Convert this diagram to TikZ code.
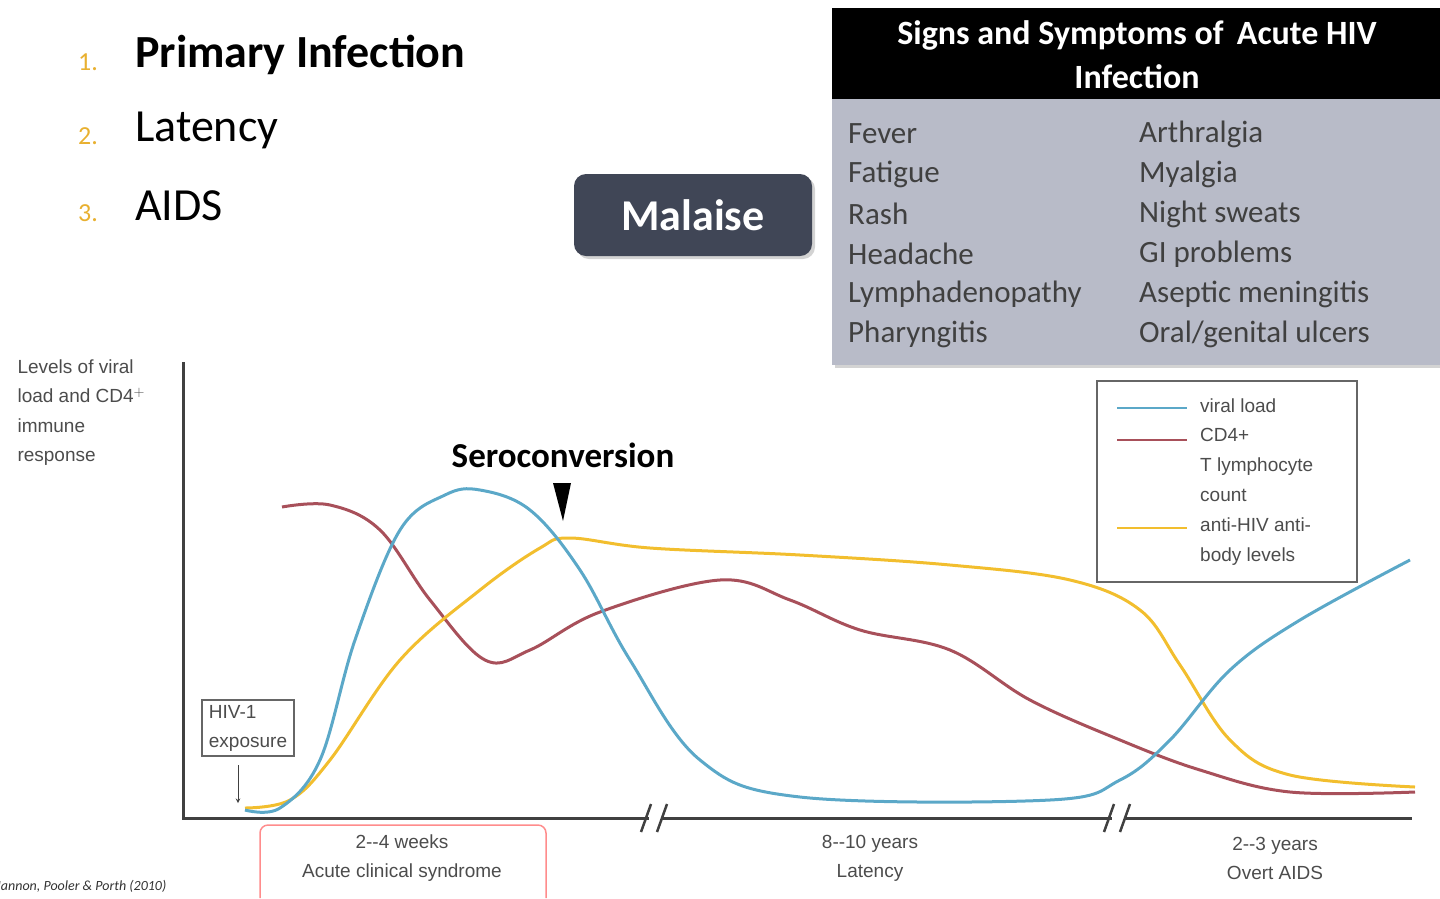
\documentclass[tikz,border=0pt]{standalone}
\usepackage{fontspec}
\setmainfont{Carlito}
\newfontfamily\arialf{Liberation Sans}
\usetikzlibrary{shadows}
\definecolor{vblue}{HTML}{5BA8C8}
\definecolor{cdred}{HTML}{A8505A}
\definecolor{abyel}{HTML}{F2BE2E}
\definecolor{numor}{HTML}{E8B030}
\definecolor{tgray}{HTML}{B8BBC8}
\definecolor{btn}{HTML}{404656}
\tikzset{
 curve/.style={line width=3pt,smooth,tension=0.6},
 lbl/.style={font=\arialf\fontsize{19}{29}\selectfont,text=black!70,align=center},
 sym/.style={font=\fontsize{31}{36}\selectfont,anchor=west,inner sep=0pt},
 lst/.style={font=\fontsize{46}{50}\selectfont,anchor=west,inner sep=0pt},
 num/.style={font=\fontsize{26}{30}\selectfont,text=numor,anchor=west,inner sep=0pt}
}
\begin{document}
\begin{tikzpicture}[x=1pt,y=-1pt]
\useasboundingbox (0,0) rectangle (1440,898);
% list
\node[num] (n1) at (78,62) {1.};
\node[lst,font=\bfseries\fontsize{46}{50}\selectfont] (l1) at (135,55) {Primary Infection};
\node[num] (n2) at (78,136) {2.};
\node[lst] (l2) at (135,130) {Latency};
\node[num] (n3) at (78,213) {3.};
\node[lst] (l3) at (135,206) {AIDS};
% malaise
\node[fill=btn,rounded corners=12pt,text=white,font=\bfseries\fontsize{44}{48}\selectfont,
 drop shadow={opacity=0.35,shadow xshift=3pt,shadow yshift=-3pt},minimum width=238pt,minimum height=82pt] (mal) at (693,215) {Malaise};
% table
\fill[tgray,drop shadow={opacity=0.35,shadow xshift=3pt,shadow yshift=-3pt}] (832,98) rectangle (1440,365);
\fill[black] (832,8) rectangle (1440,99);
\node[text=white,font=\bfseries\fontsize{34}{44}\selectfont,align=center] (th) at (1137,55) {Signs and Symptoms of\, Acute HIV\\Infection};
\foreach \t [count=\i] in {Fever,Fatigue,Rash,Headache,Lymphadenopathy,Pharyngitis}
  \node[sym,text=black!75] (a\i) at (848,94+\i*40) {\t};
\foreach \t [count=\i] in {Arthralgia,Myalgia,Night sweats,GI problems,Aseptic meningitis,Oral/genital ulcers}
  \node[sym,text=black!75] (b\i) at (1139,94+\i*40) {\t};
% axes
\coordinate (yt) at (183,362); \coordinate (o) at (183,818);
\coordinate (xe) at (1412,818);
\draw[line width=3pt,black!75] (yt) -- (o) -- (xe);
\foreach \bx in {655,1118}{
 \fill[white] (\bx-6,812) rectangle (\bx+6,824);
 \draw[line width=2.5pt,black!75] (\bx-14,832) -- (\bx-4,804) (\bx+2,832) -- (\bx+12,804);}
\node[lbl,align=left,anchor=north west,font=\arialf\fontsize{19}{29.5}\selectfont] (yl) at (14,356) {Levels of viral\\load and CD4$^{+}$\\immune\\response};
% curves
\draw[curve,cdred] plot coordinates {(282,507) (330,505) (380,530) (430,600) (485,660) (530,650) (600,612) (720,580) (790,600) (860,630) (950,650) (1030,700) (1120,740) (1200,770) (1290,792) (1415,792)};
\draw[curve,abyel] plot coordinates {(245,808) (290,800) (330,760) (400,660) (480,590) (540,548) (570,538) (650,548) (800,555) (950,565) (1070,580) (1140,610) (1180,665) (1230,740) (1290,775) (1415,787)};
\draw[curve,vblue] plot coordinates {(245,810) (280,808) (320,760) (355,640) (400,530) (445,495) (480,490) (530,510) (580,570) (630,660) (700,760) (800,797) (1050,800) (1120,780) (1170,740) (1230,670) (1300,620) (1410,560)};
% seroconversion
\node[font=\bfseries\fontsize{35}{40}\selectfont] (sero) at (563,455) {Seroconversion};
\fill[black] (553,483) -- (571,483) -- (563,521) -- cycle;
% HIV exposure
\node[draw=black!60,line width=1.2pt,lbl,align=left,inner xsep=7pt,inner ysep=5pt,font=\arialf\fontsize{19}{29}\selectfont] (exp) at (248,728) {HIV-1\\exposure};
\coordinate (ex) at (238,803);
\draw[-stealth,black!75,line width=1pt] (238,765) -- (ex);
% legend
\draw[black!60,line width=1.5pt] (1097,381) rectangle (1357,582);
\draw[vblue,line width=2.5pt] (1117,408) -- (1187,408);
\draw[cdred,line width=2.5pt] (1117,440) -- (1187,440);
\draw[abyel,line width=2.5pt] (1117,528) -- (1187,528);
\node[lbl,anchor=west,font=\arialf\fontsize{19}{30}\selectfont,align=left,inner sep=0pt] (lg1) at (1200,406) {viral load};
\node[lbl,anchor=north west,font=\arialf\fontsize{19}{30}\selectfont,align=left,inner sep=0pt] (lg2) at (1200,428) {CD4+\\T lymphocyte\\count\\anti-HIV anti-\\body levels};
% bottom labels
\draw[draw=red!45,line width=1.5pt,rounded corners=8pt] (260,898) -- (260,825) -- (546,825) -- (546,898);
\node[lbl] (w) at (402,858) {2--4 weeks\\Acute clinical syndrome};
\node[lbl] (yr) at (870,858) {8--10 years\\Latency};
\node[lbl] (ai) at (1275,858) {2--3 years\\Overt AIDS};
\node[anchor=west,font=\itshape\fontsize{14}{16}\selectfont,text=black!80,inner sep=0pt] (cit) at (-8,886) {Hannon, Pooler \& Porth (2010)};
\end{tikzpicture}
\end{document}
